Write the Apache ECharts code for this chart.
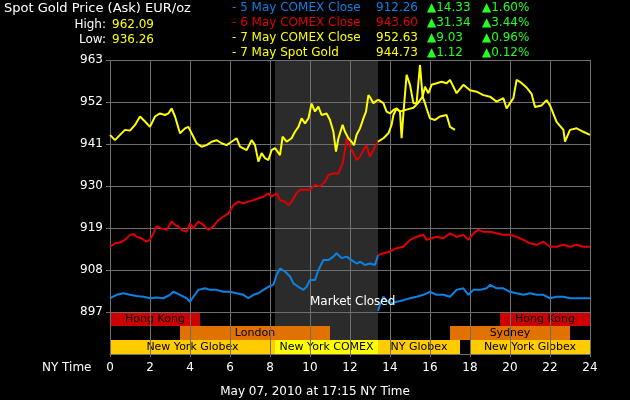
<!DOCTYPE html>
<html>
<head>
<meta charset="utf-8">
<script src="https://cdn.jsdelivr.net/npm/echarts@6.0.0/dist/echarts.min.js"></script>
<style>
  html, body { margin: 0; padding: 0; background: #000; }
  #chart { width: 630px; height: 400px; }
</style>
</head>
<body>
<div id="chart"></div>
<script>
// NY time (hours) and ask price, EUR/oz
const blueLeftHours = [0,0.33,0.67,1,1.33,1.67,2,2.33,2.67,3,3.17,3.5,3.83,4,4.17,4.42,4.75,5,5.33,5.67,6,6.33,6.67,6.92,7.17,7.42,7.67,7.92,8.17,8.33,8.5,8.75,9,9.17,9.42,9.67,9.83,10,10.25,10.42,10.67,10.92,11.17,11.33,11.58,11.83,12.08,12.33,12.5,12.75,13,13.25,13.4]
const blueLeftPrices = [900.6,901.5,901.9,901.5,901.2,901.0,900.6,900.8,900.6,901.5,902.3,901.5,900.6,899.7,901.0,902.8,903.2,902.8,902.8,902.3,902.3,901.9,901.5,900.6,901.5,901.9,902.8,903.6,904.1,906.7,908.4,907.6,906.3,904.5,903.6,902.8,903.6,905.4,905.4,908.0,910.6,910.6,911.5,912.4,911.1,911.5,910.6,909.7,910.2,909.3,909.7,909.3,911.9]

const blueRightHours = [13.4,13.5,13.67,13.83,14,14.33,14.67,15,15.33,15.67,16,16.33,16.67,17,17.33,17.67,17.92,18.17,18.5,18.83,19,19.33,19.67,20,20.33,20.67,21,21.33,21.67,22,22.33,22.67,23,23.33,23.67,24]
const blueRightPrices = [897.3,899.0,901.0,900.0,899.3,899.7,900.1,900.6,901.0,901.5,902.3,901.5,901.5,901.0,902.8,903.2,901.5,902.8,902.8,903.2,904.1,903.2,903.2,902.3,901.9,901.5,901.9,901.5,901.5,900.6,901.0,901.0,900.6,900.6,900.6,900.6]

const redLeftHours = [0,0.25,0.5,0.75,1,1.17,1.33,1.58,1.83,2,2.17,2.33,2.58,2.83,3.08,3.25,3.42,3.58,3.83,4,4.17,4.42,4.67,4.92,5.17,5.42,5.67,5.92,6.17,6.42,6.67,6.92,7.17,7.42,7.67,7.92,8.08,8.33,8.5,8.75,8.92,9.08,9.33,9.5,9.75,10,10.25,10.5,10.75,10.92,11.17,11.42,11.63,11.75,11.83,12,12.17,12.33,12.5,12.67,12.83,12.92,13,13.1,13.25,13.4]
const redLeftPrices = [914.1,915.0,915.2,915.9,917.2,917.4,916.7,916.3,915.4,915.9,917.6,919.4,918.9,918.5,920.7,919.8,919.4,918.5,918.0,920.2,918.9,920.7,919.8,918.5,919.4,921.1,922.0,922.8,925.0,925.9,925.5,925.9,926.3,926.8,927.2,928.1,927.2,928.1,926.3,925.9,925.0,925.9,928.1,929.0,929.0,929.0,930.3,929.9,931.1,932.9,933.3,933.3,935.9,939.4,942.5,940.3,938.6,936.8,937.7,939.4,940.7,939.0,937.7,937.3,940.3,941.6]

const redRightHours = [13.4,13.67,14,14.33,14.67,15,15.33,15.67,15.83,16.08,16.33,16.67,17,17.33,17.67,17.92,18.17,18.42,18.67,19,19.33,19.67,20,20.33,20.67,21,21.33,21.67,22,22.33,22.67,23,23.33,23.67,24]
const redRightPrices = [911.9,912.4,912.8,913.7,914.1,915.9,916.7,917.2,915.9,916.3,916.7,916.3,917.6,916.7,917.2,915.9,917.6,918.5,918.0,918.0,917.6,917.2,917.2,916.7,915.9,915.0,914.6,915.4,914.1,914.1,914.6,914.1,914.6,914.1,914.1]

const yellowLeftHours = [0,0.25,0.5,0.75,1,1.25,1.5,1.75,2,2.25,2.5,2.75,2.92,3.08,3.25,3.5,3.75,3.92,4.08,4.33,4.58,4.83,5.08,5.33,5.58,5.83,6.08,6.33,6.5,6.83,7.08,7.25,7.42,7.58,7.75,7.92,8.08,8.25,8.5,8.63,8.83,9.08,9.25,9.42,9.58,9.75,9.92,10.08,10.25,10.42,10.58,10.83,11,11.17,11.3,11.42,11.63,11.75,11.92,12.08,12.2,12.33,12.5,12.67,12.8,12.92,13.03,13.17,13.4]
const yellowLeftPrices = [943.4,942.0,943.4,944.7,944.5,946.0,948.2,946.9,945.5,948.2,949.0,948.6,949.0,950.3,948.2,943.8,945.1,945.5,943.8,941.2,940.3,940.7,941.6,942.0,941.2,940.7,941.6,942.5,940.3,939.4,942.0,940.7,936.4,938.6,937.3,936.8,939.4,939.9,938.1,942.9,941.6,942.5,944.2,945.5,947.7,946.4,947.7,951.6,949.5,950.8,948.6,949.0,947.3,944.2,939.0,942.5,946.0,944.2,942.5,941.6,940.7,943.4,945.1,947.7,949.5,953.8,953.0,951.7,952.6]

const yellowRightHours = [13.4,13.67,13.92,14.08,14.17,14.33,14.5,14.83,15.17,15.4,15.63,15.75,15.92,16.08,16.33,16.58,16.83,17,17.33,17.67,18,18.33,18.67,19,19.33,19.67,19.83,20,20.17,20.33,20.5,20.83,21.08,21.25,21.58,21.83,22,22.33,22.67,22.75,23,23.33,23.67,24]
const yellowRightPrices = [941.6,942.5,943.8,946.0,948.6,950.3,949.5,950.0,950.5,951.7,953.4,956.0,954.3,956.5,956.9,957.3,956.9,957.8,954.3,956.5,955.1,954.7,953.8,953.4,952.1,953.0,950.3,951.7,953.0,957.8,957.3,955.8,954.1,950.7,951.1,952.5,951.1,946.8,944.7,941.6,944.7,945.1,944.2,943.4]

const todayHours = [13.4,13.5,13.67,13.83,14,14.17,14.33,14.5,14.58,14.67,14.83,15,15.17,15.33,15.5,15.63,15.75,15.83,16,16.25,16.5,16.83,17,17.25]
const todayPrices = [952.6,952.1,951.7,949.5,949.0,949.9,950.3,949.5,942.5,949.0,959.1,956.5,951.7,951.7,961.7,953.4,951.7,950.3,947.7,947.3,948.2,948.6,945.5,944.7]

// trading sessions: row 0 = New York, 1 = Europe/Sydney, 2 = Hong Kong
const sessionNames = ['Hong Kong', 'Hong Kong', 'London', 'Sydney', 'New York Globex', 'New York COMEX', 'NY Globex', 'New York Globex']
const sessionStart = [0, 19.5, 3.5, 17, 0, 8.25, 13.4, 18]
const sessionEnd = [4.5, 24, 11, 23, 8.25, 13.4, 17.5, 24]
const sessionRow = [2, 2, 1, 1, 0, 0, 0, 0]
const closedRange = [8.25, 13.4]

const yMin = 897
const yMax = 963
const yStep = 11

const legendLabels = ['- 5 May COMEX Close', '- 6 May COMEX Close', '- 7 May COMEX Close', '- 7 May Spot Gold']
const legendPrices = ['912.26', '943.60', '952.63', '944.73']
const legendChanges = ['14.33', '31.34', '9.03', '1.12']
const legendPcts = ['1.60%', '3.44%', '0.96%', '0.12%']
const highLow = ['962.09', '936.26']

const BLUE = '#0b82e4'
const RED = '#e00000'
const YELLOW = '#ffff00'
const GRID = '#6e6e6e'
const FONT = 'DejaVu Sans'
const legendColors = [BLUE, RED, YELLOW, YELLOW]
const sessionColors = {
  'Hong Kong': '#cc0000',
  'London': '#e27200',
  'Sydney': '#e27200',
  'New York Globex': '#ffcc00',
  'NY Globex': '#ffcc00',
  'New York COMEX': '#ffff00'
}

const zip = (xs, ys) => xs.map((x, i) => [x, ys[i]])

function lineSeries(hours, prices, color) {
  return {
    type: 'line',
    xAxisIndex: 0,
    yAxisIndex: 0,
    data: zip(hours, prices),
    showSymbol: false,
    symbol: 'none',
    lineStyle: { color, width: 2 },
    itemStyle: { color },
    z: 3
  }
}

function renderShade(params, api) {
  const p1 = api.coord([closedRange[0], yMax])
  const p2 = api.coord([closedRange[1], yMin])
  return {
    type: 'rect',
    shape: { x: p1[0], y: p1[1], width: p2[0] - p1[0], height: p2[1] - p1[1] },
    style: { fill: '#2b2b2b' }
  }
}

function renderSessionShade(params, api) {
  const h = api.size([0, 1])[1]
  const top = api.coord([closedRange[0], 2])
  const bottom = api.coord([closedRange[1], 1])
  return {
    type: 'rect',
    shape: { x: top[0], y: top[1] - h / 2, width: bottom[0] - top[0], height: bottom[1] - top[1] + h },
    style: { fill: '#2b2b2b' }
  }
}

function renderSession(params, api) {
  const name = sessionNames[params.dataIndex]
  const start = api.coord([api.value(0), api.value(2)])
  const end = api.coord([api.value(1), api.value(2)])
  const h = api.size([0, 1])[1]
  return {
    type: 'group',
    children: [
      {
        type: 'rect',
        shape: { x: start[0], y: start[1] - h / 2, width: end[0] - start[0], height: h },
        style: { fill: sessionColors[name] }
      },
      {
        type: 'text',
        x: (start[0] + end[0]) / 2,
        y: start[1] + 0.5,
        style: { text: name, fill: '#000', font: '11px "' + FONT + '"', align: 'center', verticalAlign: 'middle' }
      }
    ]
  }
}

function headerTexts() {
  const font = '12px "' + FONT + '"'
  let items = [
    { type: 'text', x: 4, y: 9, style: { text: 'Spot Gold Price (Ask) EUR/oz', fill: '#fff', font: '13px "' + FONT + '"', verticalAlign: 'middle' } },
    { type: 'text', x: 106, y: 25, style: { text: 'High:', fill: '#fff', font, align: 'right', verticalAlign: 'middle' } },
    { type: 'text', x: 112, y: 25, style: { text: highLow[0], fill: YELLOW, font, verticalAlign: 'middle' } },
    { type: 'text', x: 106, y: 40, style: { text: 'Low:', fill: '#fff', font, align: 'right', verticalAlign: 'middle' } },
    { type: 'text', x: 112, y: 40, style: { text: highLow[1], fill: YELLOW, font, verticalAlign: 'middle' } },
    { type: 'text', x: 42, y: 368, style: { text: 'NY Time', fill: '#fff', font, verticalAlign: 'middle' } },
    { type: 'text', x: 315, y: 392, style: { text: 'May 07, 2010 at 17:15 NY Time', fill: '#fff', font, align: 'center', verticalAlign: 'middle' } },
    { type: 'text', x: 310, y: 302, z: 20, style: { text: 'Market Closed', fill: '#fff', font, verticalAlign: 'middle' } }
  ]
  legendLabels.forEach((label, i) => {
    const y = 8 + i * 15
    items.push(
      { type: 'text', x: 232, y, style: { text: label, fill: legendColors[i], font, verticalAlign: 'middle' } },
      { type: 'text', x: 376, y, style: { text: legendPrices[i], fill: legendColors[i], font, verticalAlign: 'middle' } },
      { type: 'text', x: 427, y, style: { text: '\u25B2' + legendChanges[i], fill: '#22ff22', font, verticalAlign: 'middle' } },
      { type: 'text', x: 482, y, style: { text: '\u25B2' + legendPcts[i], fill: '#22ff22', font, verticalAlign: 'middle' } }
    )
  })
  return items
}

const chart = echarts.init(document.getElementById('chart'))
chart.setOption({
  backgroundColor: '#000',
  animation: false,
  grid: [
    { left: 110, top: 60, width: 480, height: 252 },
    { left: 110, top: 312, width: 480, height: 42 }
  ],
  xAxis: [
    {
      type: 'value', gridIndex: 0, min: 0, max: 24, interval: 2,
      axisLabel: { show: false }, axisTick: { show: false }, axisLine: { show: false },
      splitLine: { show: true, lineStyle: { color: GRID, width: 1 } }
    },
    {
      type: 'value', gridIndex: 1, min: 0, max: 24, interval: 2,
      axisLabel: { color: '#fff', fontFamily: FONT, fontSize: 12, margin: 8 },
      axisTick: { show: true, length: 3, lineStyle: { color: GRID } },
      axisLine: { show: true, lineStyle: { color: GRID } },
      splitLine: { show: true, lineStyle: { color: GRID, width: 1 } }
    }
  ],
  yAxis: [
    {
      type: 'value', gridIndex: 0, min: yMin, max: yMax, interval: yStep,
      axisLabel: { color: '#fff', fontFamily: FONT, fontSize: 12, margin: 7 },
      axisTick: { show: true, length: 4, lineStyle: { color: GRID } },
      axisLine: { show: false },
      splitLine: { show: true, lineStyle: { color: GRID, width: 1 } }
    },
    {
      type: 'category', gridIndex: 1, data: ['New York', 'Europe', 'Asia'],
      show: false
    }
  ],
  graphic: headerTexts(),
  series: [
    {
      type: 'custom', xAxisIndex: 0, yAxisIndex: 0, z: -1,
      renderItem: renderShade, data: [closedRange], silent: true
    },
    {
      type: 'custom', xAxisIndex: 1, yAxisIndex: 1, z: -1,
      renderItem: renderSessionShade, data: [[closedRange[0], closedRange[1], 1]],
      encode: { x: [0, 1], y: 2 }, silent: true
    },
    {
      type: 'custom', xAxisIndex: 1, yAxisIndex: 1, z: -1,
      renderItem: renderSession,
      data: sessionNames.map((n, i) => [sessionStart[i], sessionEnd[i], sessionRow[i]]),
      encode: { x: [0, 1], y: 2 }, silent: true
    },
    lineSeries(blueLeftHours, blueLeftPrices, BLUE),
    lineSeries(blueRightHours, blueRightPrices, BLUE),
    lineSeries(redLeftHours, redLeftPrices, RED),
    lineSeries(redRightHours, redRightPrices, RED),
    lineSeries(yellowLeftHours, yellowLeftPrices, YELLOW),
    lineSeries(yellowRightHours, yellowRightPrices, YELLOW),
    lineSeries(todayHours, todayPrices, YELLOW)
  ]
})
</script>
</body>
</html>
